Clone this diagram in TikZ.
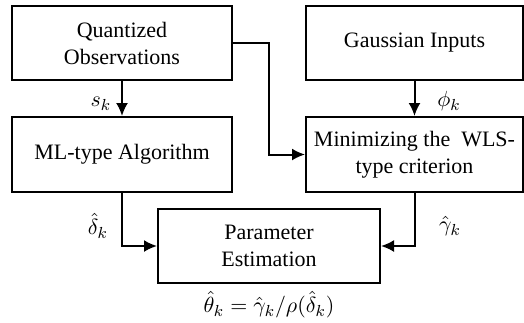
\documentclass[tikz,border=0pt]{standalone}
\usepackage{fontspec}
\setmainfont{Liberation Serif}
\usetikzlibrary{arrows.meta}
\begin{document}
\begin{tikzpicture}[x=0.5pt,y=-0.5pt,
  box/.style={draw,line width=1pt,rectangle,minimum height=37pt,align=center,font=\fontsize{11}{13.5}\selectfont,inner sep=2pt},
  arr/.style={line width=1pt,-{Latex[length=6.5pt,width=6pt]}},
  lbl/.style={font=\fontsize{11}{13.5}\selectfont}]
\useasboundingbox (0,0) rectangle (524,322);
\node[box,minimum width=110pt] (q) at (122,43) {Quantized\\Observations};
\node[box,minimum width=108.5pt] (g) at (414.5,43) {Gaussian Inputs};
\node[box,minimum width=110pt,minimum height=37.5pt] (ml) at (122,154.5) {ML-type Algorithm};
\node[box,minimum width=108.5pt,minimum height=37.5pt] (w) at (414.5,154.5) {Minimizing the\ \ WLS-\\type criterion};
\node[box,minimum width=111pt] (pe) at (269,246) {Parameter\\Estimation};
\coordinate (bend) at (269,43);
\draw[arr] (q) -- (ml);
\draw[arr] (g) -- (w);
\draw[arr] (q.east) -- (bend) |- (w.west);
\draw[arr] (ml.south) |- (pe.west);
\draw[arr] (w.south) |- (pe.east);
\node[lbl] (sk) at (101,104) {$s_k$};
\node[lbl] (phk) at (449,101) {$\phi_k$};
\node[lbl] (dk) at (98,226) {$\hat\delta_k$};
\node[lbl] (gk) at (450,226) {$\hat\gamma_k$};
\node[lbl] (th) at (269,305) {$\hat\theta_k=\hat\gamma_k/\rho(\hat\delta_k)$};
\end{tikzpicture}
\end{document}
